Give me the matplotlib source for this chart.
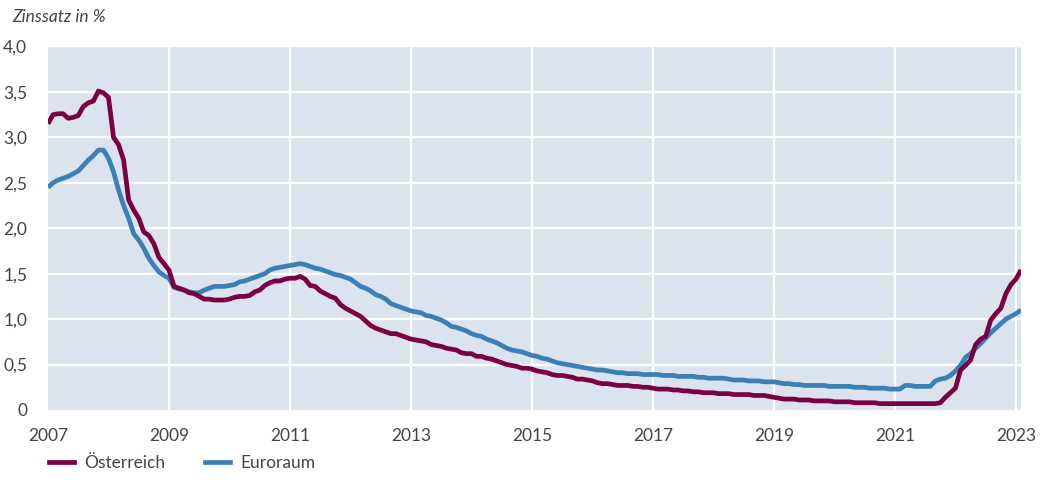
import numpy as np
import matplotlib
matplotlib.use("Agg")
import matplotlib.pyplot as plt
from matplotlib.lines import Line2D

years = ["2007", "2009", "2011", "2013", "2015", "2017", "2019", "2021", "2023"]
y_ticks = [0, 0.5, 1.0, 1.5, 2.0, 2.5, 3.0, 3.5, 4.0]
y_labels = ["0", "0,5", "1,0", "1,5", "2,0", "2,5", "3,0", "3,5", "4,0"]
series_names = ["Österreich", "Euroraum"]

# monthly values, Jan 2007 .. Feb 2023
oesterreich = [
    3.15, 3.25, 3.26, 3.26, 3.21, 3.22, 3.24, 3.34, 3.38, 3.40, 3.51, 3.49,
    3.44, 3.00, 2.92, 2.75, 2.31, 2.20, 2.11, 1.96, 1.92, 1.83, 1.68, 1.61,
    1.54, 1.36, 1.34, 1.32, 1.29, 1.28, 1.25, 1.22, 1.22, 1.21, 1.21, 1.21,
    1.22, 1.24, 1.25, 1.25, 1.26, 1.30, 1.32, 1.37, 1.40, 1.42, 1.42, 1.44,
    1.45, 1.45, 1.47, 1.44, 1.37, 1.36, 1.31, 1.28, 1.25, 1.23, 1.16, 1.12,
    1.09, 1.06, 1.03, 0.98, 0.93, 0.90, 0.88, 0.86, 0.84, 0.84, 0.82, 0.80,
    0.78, 0.77, 0.76, 0.75, 0.72, 0.71, 0.70, 0.68, 0.67, 0.66, 0.63, 0.62,
    0.62, 0.59, 0.59, 0.57, 0.56, 0.54, 0.52, 0.50, 0.49, 0.48, 0.46, 0.46,
    0.45, 0.43, 0.42, 0.41, 0.39, 0.38, 0.38, 0.37, 0.36, 0.34, 0.34, 0.33,
    0.32, 0.30, 0.29, 0.29, 0.28, 0.27, 0.27, 0.27, 0.26, 0.26, 0.25, 0.25,
    0.24, 0.23, 0.23, 0.23, 0.22, 0.22, 0.21, 0.21, 0.20, 0.20, 0.19, 0.19,
    0.19, 0.18, 0.18, 0.18, 0.17, 0.17, 0.17, 0.17, 0.16, 0.16, 0.16, 0.15,
    0.14, 0.13, 0.12, 0.12, 0.12, 0.11, 0.11, 0.11, 0.10, 0.10, 0.10, 0.10,
    0.09, 0.09, 0.09, 0.09, 0.08, 0.08, 0.08, 0.08, 0.08, 0.07, 0.07, 0.07,
    0.07, 0.07, 0.07, 0.07, 0.07, 0.07, 0.07, 0.07, 0.07, 0.08, 0.14, 0.19,
    0.24, 0.44, 0.49, 0.55, 0.72, 0.78, 0.81, 0.99, 1.06, 1.12, 1.28, 1.38,
    1.44, 1.54,
]

euroraum = [
    2.45, 2.50, 2.53, 2.55, 2.57, 2.60, 2.63, 2.69, 2.75, 2.80, 2.86, 2.86,
    2.77, 2.62, 2.42, 2.25, 2.11, 1.94, 1.87, 1.78, 1.67, 1.59, 1.52, 1.48,
    1.45, 1.35, 1.33, 1.32, 1.30, 1.29, 1.29, 1.32, 1.34, 1.36, 1.36, 1.36,
    1.37, 1.38, 1.41, 1.42, 1.44, 1.46, 1.48, 1.50, 1.54, 1.56, 1.57, 1.58,
    1.59, 1.60, 1.61, 1.60, 1.58, 1.56, 1.55, 1.53, 1.51, 1.49, 1.48, 1.46,
    1.44, 1.40, 1.36, 1.34, 1.31, 1.27, 1.25, 1.22, 1.17, 1.15, 1.13, 1.11,
    1.09, 1.08, 1.07, 1.04, 1.03, 1.01, 0.99, 0.96, 0.92, 0.91, 0.89, 0.87,
    0.84, 0.82, 0.81, 0.78, 0.76, 0.74, 0.71, 0.68, 0.66, 0.65, 0.64, 0.62,
    0.60, 0.59, 0.57, 0.56, 0.54, 0.52, 0.51, 0.50, 0.49, 0.48, 0.47, 0.46,
    0.45, 0.44, 0.44, 0.43, 0.42, 0.41, 0.41, 0.40, 0.40, 0.40, 0.39, 0.39,
    0.39, 0.39, 0.38, 0.38, 0.38, 0.37, 0.37, 0.37, 0.37, 0.36, 0.36, 0.35,
    0.35, 0.35, 0.35, 0.34, 0.33, 0.33, 0.33, 0.32, 0.32, 0.32, 0.31, 0.31,
    0.31, 0.30, 0.29, 0.29, 0.28, 0.28, 0.27, 0.27, 0.27, 0.27, 0.27, 0.26,
    0.26, 0.26, 0.26, 0.26, 0.25, 0.25, 0.25, 0.24, 0.24, 0.24, 0.24, 0.23,
    0.23, 0.23, 0.27, 0.27, 0.26, 0.26, 0.26, 0.26, 0.32, 0.34, 0.35, 0.38,
    0.43, 0.49, 0.58, 0.62, 0.68, 0.73, 0.79, 0.85, 0.90, 0.95, 1.00, 1.03,
    1.06, 1.10,
]

c_at = "#7b0042"
c_eu = "#3a80b6"
bg = "#dbe3ee"
txt = "#444444"
FONT = "Lato"
FS = 12.5

fig = plt.figure(figsize=(10.46, 4.8), dpi=100)
ax = fig.add_axes([48 / 1046, 1 - 410 / 480, 973 / 1046, 363.5 / 480])
ax.set_facecolor(bg)
for s in ax.spines.values():
    s.set_visible(False)

n = len(oesterreich)
x = np.arange(n)
month_ticks = [24 * i for i in range(len(years))]

for t in month_ticks[1:]:
    ax.axvline(t, color="white", lw=1.6, zorder=1)
for v in y_ticks[1:]:
    ax.axhline(v, color="white", lw=1.6, zorder=1)

ax.plot(x, euroraum, color=c_eu, lw=3.4, solid_joinstyle="round", solid_capstyle="butt", zorder=3)
ax.plot(x, oesterreich, color=c_at, lw=3.4, solid_joinstyle="round", solid_capstyle="butt", zorder=4)

ax.set_xlim(0, n - 1)
ax.set_ylim(0, 4.0)
ax.set_xticks(month_ticks)
ax.set_xticklabels(years)
ax.set_yticks(y_ticks)
ax.set_yticklabels(y_labels)
ax.tick_params(axis="both", length=0, labelsize=FS, colors=txt)
ax.tick_params(axis="x", pad=13)
ax.tick_params(axis="y", pad=15)
for lab in ax.get_xticklabels() + ax.get_yticklabels():
    lab.set_fontfamily(FONT)

fig.text(12 / 1046, 1 - 17 / 480, "Zinssatz in %", fontsize=FS, style="italic",
         color=txt, family=FONT, va="center", ha="left")

handles = [Line2D([], [], color=c_at, lw=3.4), Line2D([], [], color=c_eu, lw=3.4)]
fig.legend(handles, series_names, loc="center left", bbox_to_anchor=(33 / 1046, 1 - 463 / 480),
           ncol=2, frameon=False, handlelength=1.45, handletextpad=0.6, columnspacing=2.3,
           prop={"family": FONT, "size": FS}, labelcolor=txt)

fig.savefig("out.png", dpi=100, facecolor="white")
